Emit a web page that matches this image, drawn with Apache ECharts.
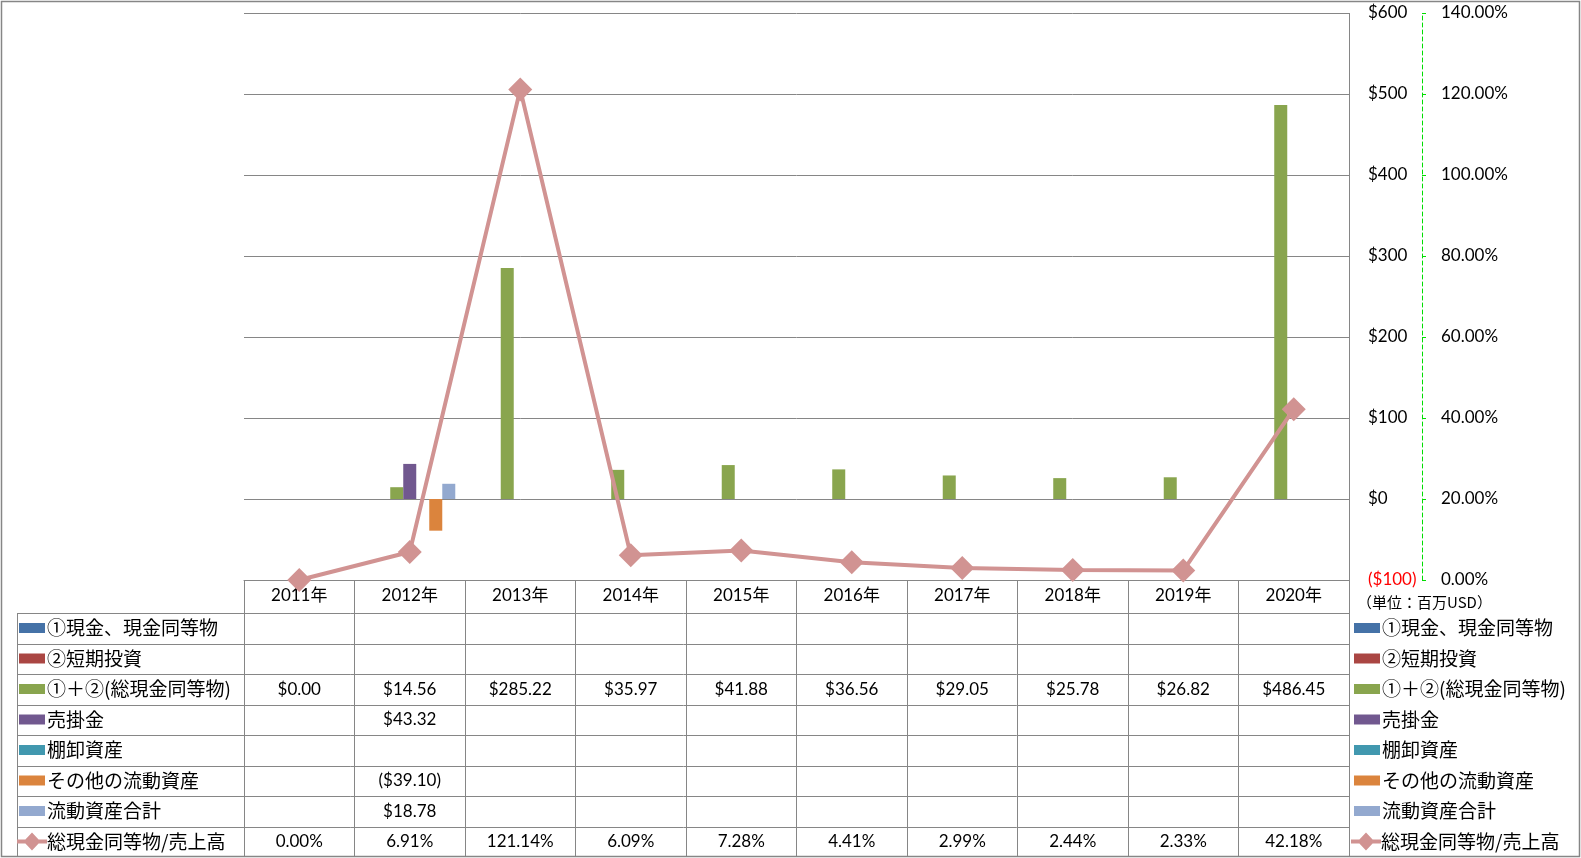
<!DOCTYPE html>
<html>
<head>
<meta charset="utf-8">
<script src="https://cdn.jsdelivr.net/npm/echarts@6/dist/echarts.min.js"></script>
<style>
html,body{margin:0;padding:0;background:#fff;}
#main{width:1581px;height:858px;}
</style>
</head>
<body>
<div id="main"></div>
<script>
// ---- data ----
const categories = ['2011年','2012年','2013年','2014年','2015年','2016年','2017年','2018年','2019年','2020年'];
const cashEq        = [null,null,null,null,null,null,null,null,null,null];
const shortInvest   = [null,null,null,null,null,null,null,null,null,null];
const totalCash     = [0.00,14.56,285.22,35.97,41.88,36.56,29.05,25.78,26.82,486.45];
const receivables   = [null,43.32,null,null,null,null,null,null,null,null];
const inventory     = [null,null,null,null,null,null,null,null,null,null];
const otherCurrent  = [null,-39.10,null,null,null,null,null,null,null,null];
const totalCurrent  = [null,18.78,null,null,null,null,null,null,null,null];
const cashToSales   = [0.00,6.91,121.14,6.09,7.28,4.41,2.99,2.44,2.33,42.18];
const seriesNames = ['①現金、現金同等物','②短期投資','①＋②(総現金同等物)','売掛金','棚卸資産','その他の流動資産','流動資産合計','総現金同等物/売上高'];
const barData = [cashEq, shortInvest, totalCash, receivables, inventory, otherCurrent, totalCurrent];
const colors = ['#4572A7','#AA4643','#89A54E','#71588F','#4198AF','#DB843D','#93A9CF','#D19392'];
const unitLabel = '（単位：百万USD）';

// ---- layout ----
const GRID_L = 244, GRID_R = 1349, GRID_T = 13, GRID_B = 580;
const HEADER_B = 613, ROW_H = 30.5, TABLE_L = 17;
const NUM_FONT = "Lato, 'Noto Sans CJK JP', sans-serif";
const CJK_FONT = "'Noto Sans CJK JP', sans-serif";
const GRAY = '#868686';

const chart = echarts.init(document.getElementById('main'), null, {renderer:'canvas'});

function fmtMoney(v){
  if (v < 0) return '($' + Math.abs(v).toFixed(2) + ')';
  return '$' + v.toFixed(2);
}

const series = barData.map((d, i) => ({
  name: seriesNames[i], type: 'bar', data: d, yAxisIndex: 0,
  barGap: '0%', barCategoryGap: '17.6%',
  itemStyle: {color: colors[i]}
}));
series.push({
  name: seriesNames[7], type: 'line', data: cashToSales, yAxisIndex: 1,
  symbol: 'diamond', symbolSize: 24, clip: false, z: 5,
  lineStyle: {color: colors[7], width: 4},
  itemStyle: {color: colors[7]}
});

const barLegend = {
  orient: 'vertical', itemWidth: 26, itemHeight: 10, itemGap: 10.5, padding: 0,
  icon: 'rect', selectedMode: false, height: 250,
  textStyle: {fontFamily: CJK_FONT, fontSize: 19, color: '#000', lineHeight: 20, padding: [0, 0, 0, -3]},
  data: seriesNames.slice(0, 7)
};
const lineLegend = {
  orient: 'vertical', itemWidth: 30, itemHeight: 18, padding: 0,
  selectedMode: false,
  textStyle: {fontFamily: CJK_FONT, fontSize: 19, color: '#000', lineHeight: 20, padding: [0, 0, 0, -5]},
  data: [{name: seriesNames[7], icon: 'path://M0,7 L8.4,7 L15,0 L21.6,7 L30,7 L30,11 L21.6,11 L15,18 L8.4,11 L0,11 Z'}]
};
const lineRowTop = HEADER_B + 7 * ROW_H + 5;

chart.setOption({
  animation: false,
  color: colors,
  grid: {left: GRID_L, right: 1581 - GRID_R, top: GRID_T, bottom: 858 - GRID_B, containLabel: false},
  legend: [
    Object.assign({}, barLegend, {left: 19, top: 618}),
    Object.assign({}, barLegend, {left: 1354, top: 618}),
    Object.assign({}, lineLegend, {left: 17, top: lineRowTop}),
    Object.assign({}, lineLegend, {left: 1351, top: lineRowTop})
  ],
  xAxis: {
    type: 'category', data: categories, boundaryGap: true,
    axisLine: {show: true, onZero: false, lineStyle: {color: GRAY, width: 1}},
    axisTick: {show: true, length: 858 - GRID_B - 1, lineStyle: {color: GRAY, width: 1}},
    axisLabel: {fontFamily: NUM_FONT, fontSize: 17, color: '#000', margin: 6, lineHeight: 20}
  },
  yAxis: [
    {
      type: 'value', position: 'right', min: -100, max: 600, interval: 100,
      axisLine: {show: false}, axisTick: {show: false},
      splitLine: {show: true, lineStyle: {color: GRAY, width: 1}},
      axisLabel: {
        margin: 19, fontFamily: NUM_FONT, fontSize: 17, color: '#000', align: 'left',
        formatter: v => v < 0 ? '{neg|($' + Math.abs(v) + ')}' : '$' + v,
        rich: {neg: {color: '#FF0000', fontFamily: NUM_FONT, fontSize: 17}}
      }
    },
    {
      type: 'value', position: 'right', offset: 73, min: 0, max: 140, interval: 20,
      axisLine: {show: true, lineStyle: {color: '#00DD00', width: 1, type: [4, 3]}},
      axisTick: {show: true, length: 4, lineStyle: {color: '#00DD00', width: 1}},
      splitLine: {show: false},
      axisLabel: {margin: 19, fontFamily: NUM_FONT, fontSize: 17, color: '#000', align: 'left',
        formatter: v => v.toFixed(2) + '%'}
    }
  ],
  series: series
});

// ---- data table drawn from the arrays ----
const g = [];
g.push({type: 'rect', shape: {x: 1.5, y: 1.5, width: 1578, height: 855}, style: {fill: 'none', stroke: GRAY, lineWidth: 1.5}, silent: true, z: 0});
g.push({type: 'line', shape: {x1: GRID_R + 0.5, y1: GRID_T, x2: GRID_R + 0.5, y2: 857}, style: {stroke: GRAY, lineWidth: 1}, silent: true});
g.push({type: 'line', shape: {x1: TABLE_L + 0.5, y1: HEADER_B, x2: TABLE_L + 0.5, y2: 857}, style: {stroke: GRAY, lineWidth: 1}, silent: true});
for (let r = 0; r < 8; r++) {
  const y = Math.round(HEADER_B + r * ROW_H) + 0.5;
  g.push({type: 'line', shape: {x1: TABLE_L, y1: y, x2: GRID_R + 1, y2: y}, style: {stroke: GRAY, lineWidth: 1}, silent: true});
}
g.push({type: 'text', x: 1357, y: 602, style: {text: unitLabel, fontFamily: CJK_FONT, fontSize: 15, fill: '#000', verticalAlign: 'middle', align: 'left'}, silent: true});

const rows = barData.concat([cashToSales]);
rows.forEach((arr, r) => {
  const cy = HEADER_B + r * ROW_H + ROW_H / 2;
  arr.forEach((v, i) => {
    if (v === null || v === undefined) return;
    const cx = chart.convertToPixel({xAxisIndex: 0}, categories[i]);
    const txt = r === 7 ? v.toFixed(2) + '%' : fmtMoney(v);
    g.push({type: 'text', x: cx, y: cy, style: {text: txt, fontFamily: NUM_FONT, fontSize: 17, fill: '#000', align: 'center', verticalAlign: 'middle'}, silent: true});
  });
});
chart.setOption({graphic: g});
</script>
</body>
</html>
